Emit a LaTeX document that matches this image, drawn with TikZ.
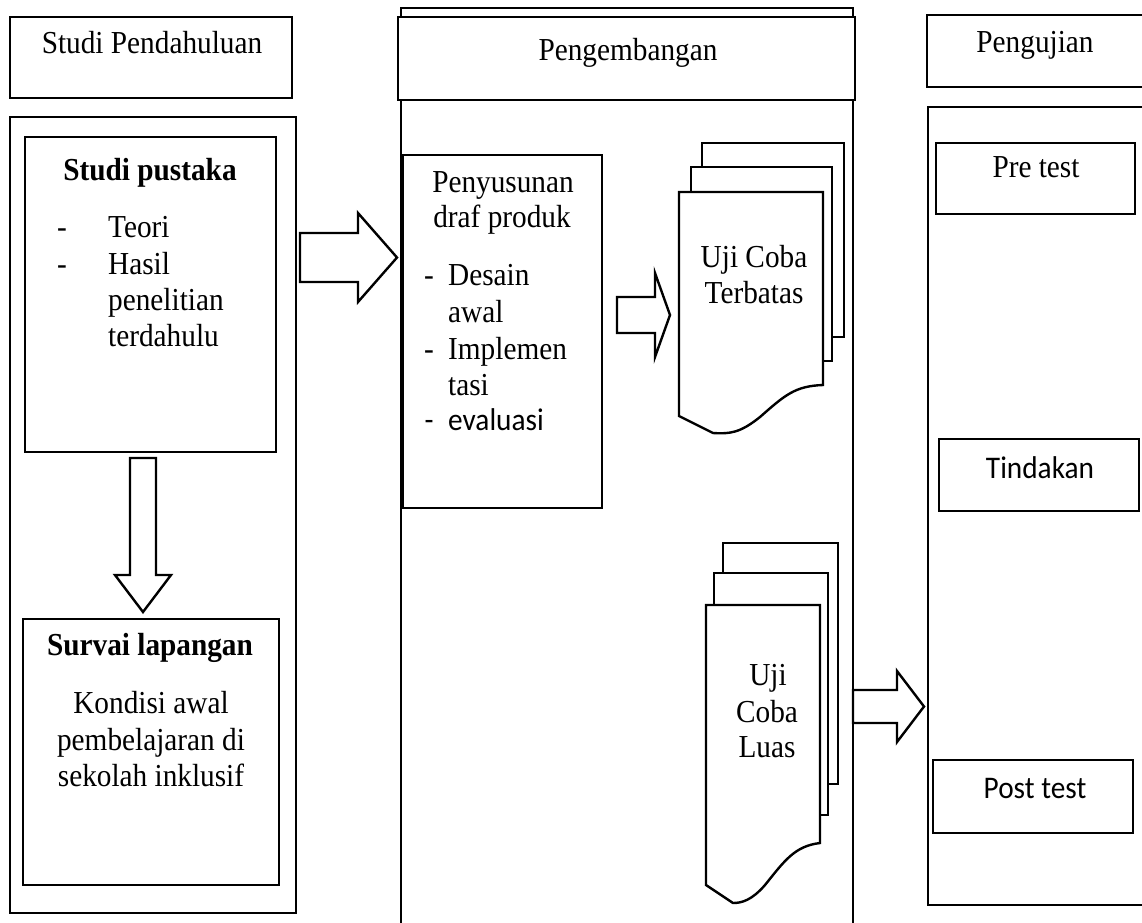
\documentclass[tikz,border=0pt]{standalone}
\usepackage{fontspec}
\setmainfont[FakeStretch=0.915]{Liberation Serif}
\newfontfamily\calib[FakeStretch=0.93]{Carlito}
\usetikzlibrary{fit}
\begin{document}
\begin{tikzpicture}[x=1pt,y=-1pt,
  box/.style={draw, line width=2.4pt, fill=white, inner sep=0pt},
  doc/.style={draw, line width=2.4pt, fill=white, line join=miter},
  blk/.style={draw, line width=2.4pt, fill=white, line join=miter},
  txt/.style={inner sep=0pt, anchor=base, font=\fontsize{32}{36}\selectfont},
  ltxt/.style={txt, anchor=base west},
  ctxt/.style={txt, font=\fontsize{31.5}{36}\selectfont\calib},
  lctxt/.style={ctxt, anchor=base west}]
\useasboundingbox (0,0) rectangle (1142,922);
\clip (0,0) rectangle (1142,922);
\fill[white] (0,0) rectangle (1142,922);

% ---- column A: Studi Pendahuluan
\node[box, fit={(10,17) (292,98)}] (hdrA) {};
\node[box, fit={(10,117) (296,913)}] (colA) {};
\node[box, fit={(25,137) (276,452)}] (pustaka) {};
\node[box, fit={(23,619) (279,885)}] (survai) {};
\node[txt] (tA) at (152,53) {Studi Pendahuluan};
\node[txt, font=\fontsize{32}{36}\selectfont\bfseries] (tpus) at (150,180) {Studi pustaka};
\node[txt] (d1) at (62,237) {-};
\node[ltxt] (l1) at (108,237) {Teori};
\node[txt] (d2) at (62,274) {-};
\node[ltxt] (l2) at (108,274) {Hasil};
\node[ltxt] (l3) at (108,310) {penelitian};
\node[ltxt] (l4) at (108,346) {terdahulu};
\node[txt, font=\fontsize{32}{36}\selectfont\bfseries] (tsur) at (150,655) {Survai lapangan};
\node[txt] (s1) at (151,713) {Kondisi awal};
\node[txt] (s2) at (151,750) {pembelajaran di};
\node[txt] (s3) at (151,786) {sekolah inklusif};

% ---- column B: Pengembangan
\node[box, fit={(401,8) (853,950)}] (colB) {};
\node[box, fit={(398,17) (855,100)}] (hdrB) {};
\node[box, fit={(403,155) (602,508)}] (draf) {};
\node[txt] (tB) at (628,60) {Pengembangan};
\node[txt] (p1) at (503,192) {Penyusunan};
\node[txt] (p2) at (502,227) {draf produk};
\node[txt] (pd1) at (429,285) {-};
\node[ltxt] (p3) at (448,285) {Desain};
\node[ltxt] (p4) at (448,322) {awal};
\node[txt] (pd2) at (429,359) {-};
\node[ltxt] (p5) at (448,359) {Implemen};
\node[ltxt] (p6) at (448,395) {tasi};
\node[ctxt] (pd3) at (429,430) {-};
\node[lctxt] (p7) at (448,430) {evaluasi};

% document stack: Uji Coba Terbatas
\draw[doc] (702,143) rectangle (844,337);
\draw[doc] (691,167) rectangle (832,361);
\draw[doc] (679,192) -- (823,192) -- (823,385)
  .. controls (795,386) and (785,395) .. (760,417)
  .. controls (740,433) and (730,434) .. (713,433) -- (679,416) -- cycle;
\node[txt] (u1) at (754,267) {Uji Coba};
\node[txt] (u2) at (754,303) {Terbatas};

% document stack: Uji Coba Luas
\draw[doc] (723,543) rectangle (838,784);
\draw[doc] (714,573) rectangle (828,815);
\draw[doc] (706,605) -- (820,605) -- (820,843)
  .. controls (795,846) and (785,860) .. (765,885)
  .. controls (752,900) and (742,903) .. (733,903) -- (706,885) -- cycle;
\node[txt] (v1) at (768,685) {Uji};
\node[txt] (v2) at (767,722) {Coba};
\node[txt] (v3) at (767,757) {Luas};

% ---- column C: Pengujian
\node[box, fit={(928,107) (1170,905)}] (colC) {};
\node[box, fit={(927,15) (1170,87)}] (hdrC) {};
\node[box, fit={(936,143) (1135,214)}] (pre) {};
\node[box, fit={(939,439) (1139,511)}] (tind) {};
\node[box, fit={(933,760) (1133,833)}] (post) {};
\node[txt] (tC) at (1035,52) {Pengujian};
\node[txt] (tpre) at (1036,177) {Pre test};
\node[ctxt] (ttind) at (1040,478) {Tindakan};
\node[ctxt] (tpost) at (1035,798) {Post test};

% ---- block arrows
\draw[blk] (300,233) -- (358,233) -- (358,213) -- (397,257.5) -- (358,302) -- (358,282) -- (300,282) -- cycle;
\draw[blk] (617,297) -- (655,297) -- (655,273) -- (670,315) -- (655,357) -- (655,333) -- (617,333) -- cycle;
\draw[blk] (853,690) -- (897,690) -- (897,671) -- (924,706.5) -- (897,742) -- (897,723) -- (853,723) -- cycle;
\draw[blk] (130,458) -- (156,458) -- (156,575) -- (171,575) -- (143,612) -- (115,575) -- (130,575) -- cycle;
\end{tikzpicture}
\end{document}
